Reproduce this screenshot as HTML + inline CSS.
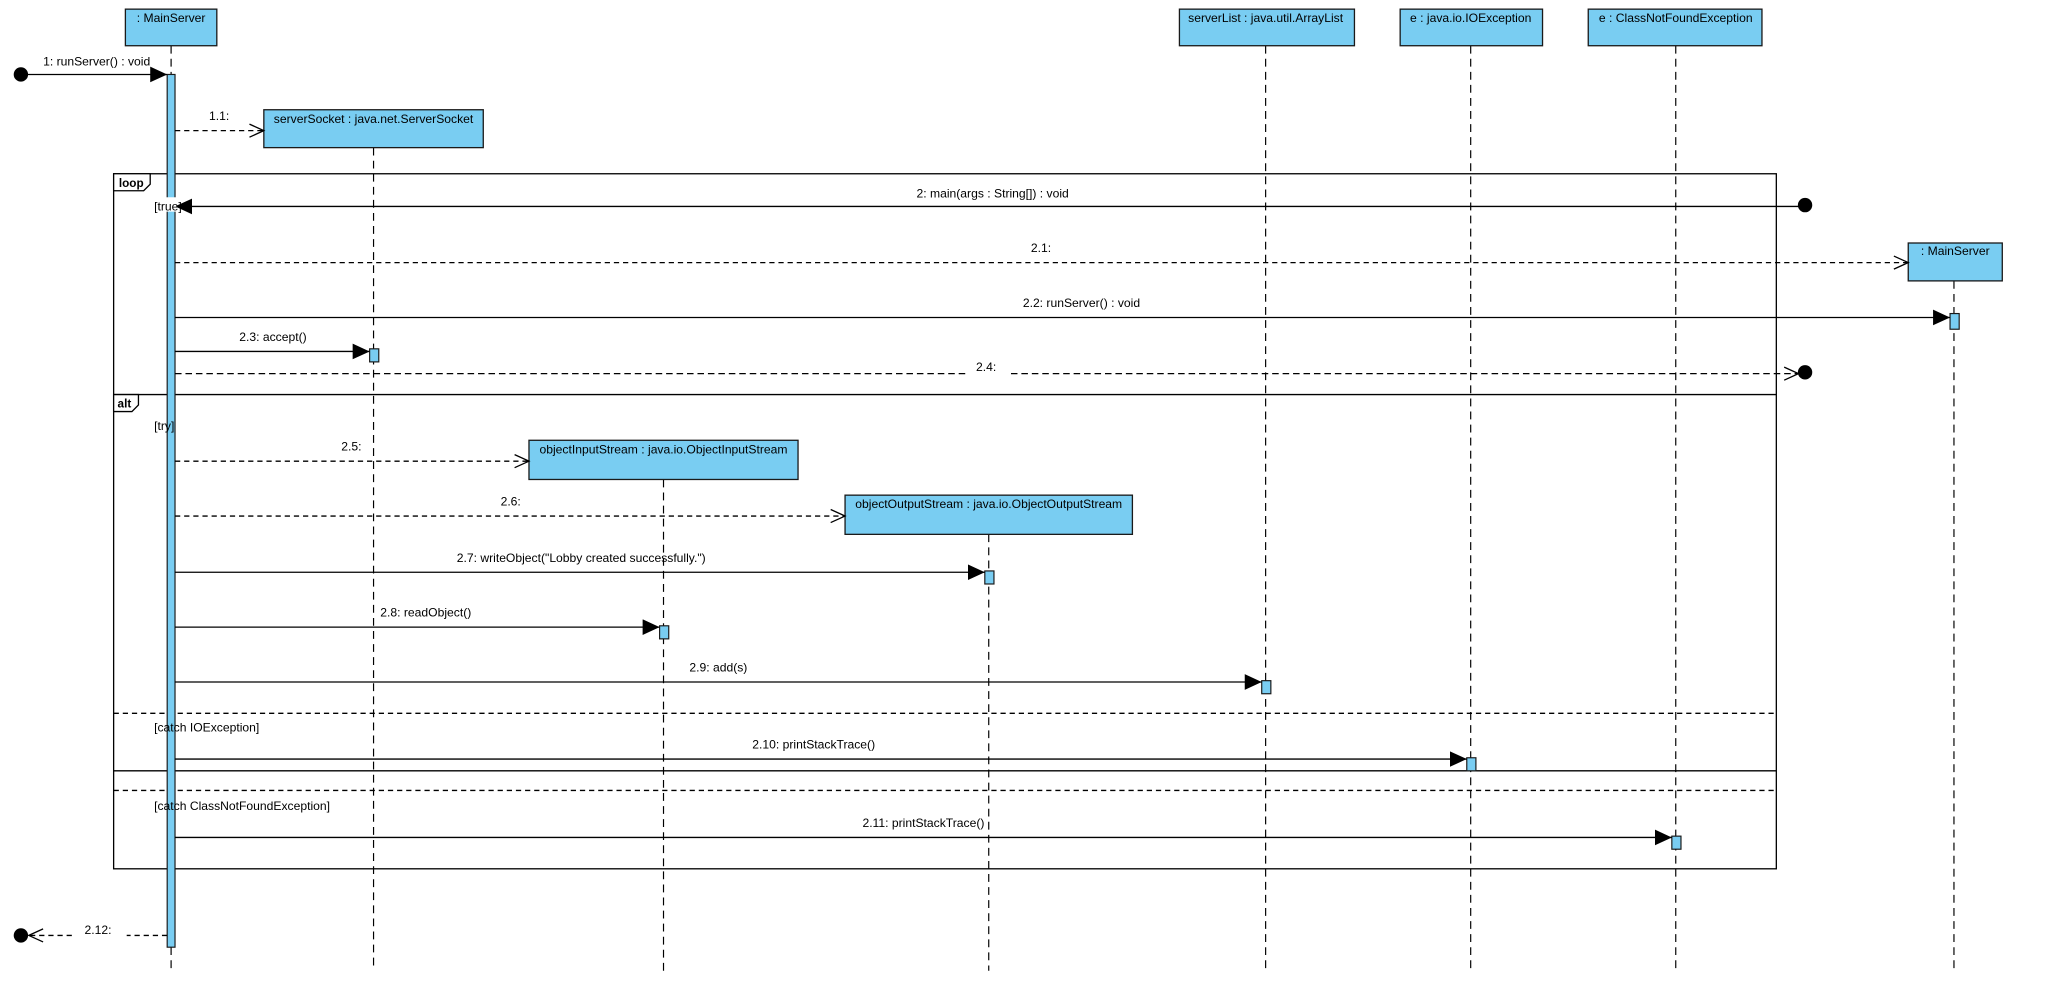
<!DOCTYPE html>
<html><head><meta charset="utf-8"><style>html,body{margin:0;padding:0;background:#fff;}svg{display:block}</style></head>
<body>
<svg width="2048" height="989" viewBox="0 0 1568 757" preserveAspectRatio="none" xmlns="http://www.w3.org/2000/svg" font-family="Liberation Sans, sans-serif" font-size="9.3">
<defs>
<marker id="f" markerWidth="14" markerHeight="12" refX="13" refY="6" orient="auto" markerUnits="userSpaceOnUse"><path d="M0,0 L13,6 L0,12 Z" fill="#000"/></marker>
<marker id="o" markerWidth="14" markerHeight="12" refX="12" refY="6" orient="auto" markerUnits="userSpaceOnUse"><path d="M1,1 L12,6 L1,11" fill="none" stroke="#000" stroke-width="1"/></marker>
</defs>
<rect width="1568" height="757" fill="#fff"/>
<g stroke="#000" stroke-width="0.9" stroke-dasharray="6,4">
<line x1="131" y1="35" x2="131" y2="743"/>
<line x1="286" y1="113" x2="286" y2="743"/>
<line x1="508" y1="367" x2="508" y2="743"/>
<line x1="757" y1="409" x2="757" y2="743"/>
<line x1="969" y1="35" x2="969" y2="743"/>
<line x1="1126" y1="35" x2="1126" y2="743"/>
<line x1="1283" y1="35" x2="1283" y2="743"/>
<line x1="1496" y1="215" x2="1496" y2="743"/>
</g>
<g fill="none" stroke="#000" stroke-width="1">
<rect x="87" y="133" width="1273" height="532"/>
<line x1="87" y1="302" x2="1360" y2="302"/>
<line x1="87" y1="590" x2="1360" y2="590"/>
<line x1="87" y1="546" x2="1360" y2="546" stroke-dasharray="4,3"/>
<line x1="87" y1="605" x2="1360" y2="605" stroke-dasharray="4,3"/>
</g>
<path d="M87,133 H115 V141 L110,146 H87 Z" fill="#fff" stroke="#000" stroke-width="1"/>
<text x="91" y="143" font-weight="bold" font-size="9">loop</text>
<path d="M87,302 H106 V310 L101,315 H87 Z" fill="#fff" stroke="#000" stroke-width="1"/>
<text x="90" y="312" font-weight="bold" font-size="9">alt</text>
<g fill="#79cdf2" stroke="#1a1a1a" stroke-width="1">
<rect x="96" y="7" width="70" height="28"/>
<rect x="202" y="84" width="168" height="29"/>
<rect x="405" y="337" width="206" height="30"/>
<rect x="647" y="379" width="220" height="30"/>
<rect x="903" y="7" width="134" height="28"/>
<rect x="1072" y="7" width="109" height="28"/>
<rect x="1216" y="7" width="133" height="28"/>
<rect x="1461" y="186" width="72" height="29"/>
</g>
<g text-anchor="middle">
<text x="131" y="17">: MainServer</text>
<text x="286" y="94">serverSocket : java.net.ServerSocket</text>
<text x="508" y="347">objectInputStream : java.io.ObjectInputStream</text>
<text x="757" y="389">objectOutputStream : java.io.ObjectOutputStream</text>
<text x="969" y="17">serverList : java.util.ArrayList</text>
<text x="1126" y="17">e : java.io.IOException</text>
<text x="1283" y="17">e : ClassNotFoundException</text>
<text x="1497" y="195">: MainServer</text>
</g>
<g fill="#79cdf2" stroke="#1a1a1a" stroke-width="0.9">
<rect x="128" y="57" width="6" height="668"/>
<rect x="283" y="267" width="7" height="10"/>
<rect x="1493" y="240" width="7" height="12"/>
<rect x="754" y="437" width="7" height="10"/>
<rect x="505" y="479" width="7" height="10"/>
<rect x="966" y="521" width="7" height="10"/>
<rect x="1123" y="580" width="7" height="10"/>
<rect x="1280" y="640" width="7" height="10"/>
</g>
<g stroke="#000" stroke-width="1" fill="none">
<line x1="16" y1="57" x2="128" y2="57" marker-end="url(#f)"/>
<line x1="134" y1="100" x2="202" y2="100" stroke-dasharray="4,3" marker-end="url(#o)"/>
<line x1="1382" y1="158" x2="134" y2="158" marker-end="url(#f)"/>
<line x1="134" y1="201" x2="1461" y2="201" stroke-dasharray="4,3" marker-end="url(#o)"/>
<line x1="134" y1="243" x2="1493" y2="243" marker-end="url(#f)"/>
<line x1="134" y1="269" x2="283" y2="269" marker-end="url(#f)"/>
<line x1="134" y1="286" x2="1377" y2="286" stroke-dasharray="5,3" marker-end="url(#o)"/>
<line x1="134" y1="353" x2="405" y2="353" stroke-dasharray="4,3" marker-end="url(#o)"/>
<line x1="134" y1="395" x2="647" y2="395" stroke-dasharray="4,3" marker-end="url(#o)"/>
<line x1="134" y1="438" x2="754" y2="438" marker-end="url(#f)"/>
<line x1="134" y1="480" x2="505" y2="480" marker-end="url(#f)"/>
<line x1="134" y1="522" x2="966" y2="522" marker-end="url(#f)"/>
<line x1="134" y1="581" x2="1123" y2="581" marker-end="url(#f)"/>
<line x1="134" y1="641" x2="1280" y2="641" marker-end="url(#f)"/>
<line x1="128" y1="716" x2="97" y2="716" stroke-dasharray="4,3"/>
<line x1="55" y1="716" x2="22" y2="716" stroke-dasharray="4,3" marker-end="url(#o)"/>
</g>
<g fill="#000">
<circle cx="16" cy="57" r="5.5"/>
<circle cx="1382" cy="157" r="5.5"/>
<circle cx="1382" cy="285" r="5.5"/>
<circle cx="16" cy="716" r="5.5"/>
</g>
<rect x="740" y="281" width="34" height="9" fill="#fff"/>
<rect x="117" y="151" width="18" height="11" fill="#fff"/>
<text x="33" y="50">1: runServer() : void</text>
<text x="160" y="92">1.1:</text>
<text x="118" y="161">[true]</text>
<text x="760" y="151" text-anchor="middle">2: main(args : String[]) : void</text>
<text x="797" y="193" text-anchor="middle">2.1:</text>
<text x="828" y="235" text-anchor="middle">2.2: runServer() : void</text>
<text x="209" y="261" text-anchor="middle">2.3: accept()</text>
<text x="755" y="284" text-anchor="middle">2.4:</text>
<text x="118" y="329">[try]</text>
<text x="269" y="345" text-anchor="middle">2.5:</text>
<text x="391" y="387" text-anchor="middle">2.6:</text>
<text x="445" y="430" text-anchor="middle">2.7: writeObject("Lobby created successfully.")</text>
<text x="326" y="472" text-anchor="middle">2.8: readObject()</text>
<text x="550" y="514" text-anchor="middle">2.9: add(s)</text>
<text x="118" y="560">[catch IOException]</text>
<text x="623" y="573" text-anchor="middle">2.10: printStackTrace()</text>
<text x="118" y="620">[catch ClassNotFoundException]</text>
<text x="707" y="633" text-anchor="middle">2.11: printStackTrace()</text>
<text x="75" y="715" text-anchor="middle">2.12:</text>
</svg>
</body></html>
